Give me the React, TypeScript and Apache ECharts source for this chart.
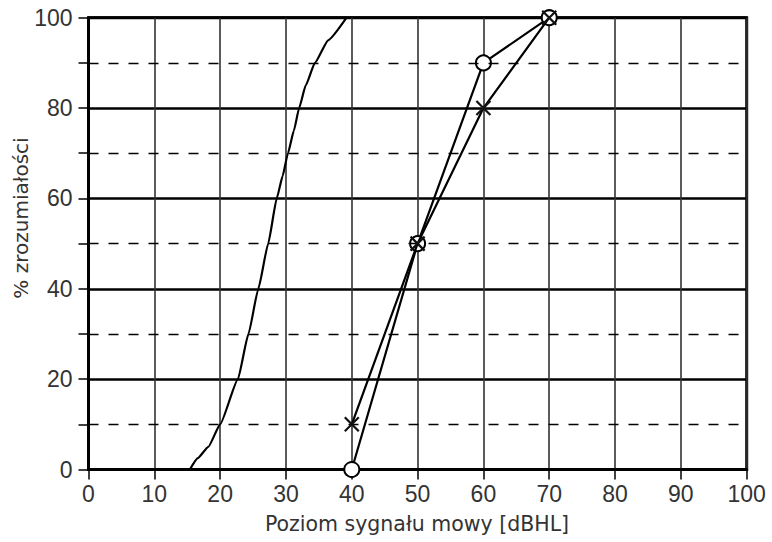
import React, { useEffect, useRef } from "react";
import * as echarts from "echarts";

// Normal-hearing reference curve (level dBHL, % intelligibility)
const curveX = [15.4, 16.6, 18.2, 20, 22.7, 24.3, 25.8, 27.3, 28.6, 29.5, 30.3, 31.2, 32, 33, 34.4, 36.4, 39.2];
const curveY = [0, 2.5, 5, 10, 20, 30, 40, 50, 60, 65, 70, 75, 80, 85, 90, 95, 100];

// Measured series
const levels = [40, 50, 60, 70];
const circleValues = [0, 50, 90, 100];
const crossValues = [10, 50, 80, 100];

const dashedLevels = [10, 30, 50, 70, 90];

const xTitle = "Poziom sygnału mowy [dBHL]";
const yTitle = "% zrozumiałości";

export default function App() {
  const ref = useRef<HTMLDivElement>(null);
  useEffect(() => {
    if (!ref.current) return;
    const chart = echarts.init(ref.current, null, { renderer: "svg" });
    const tickFont = { fontFamily: "Liberation Sans, Arial, sans-serif", fontSize: 23, color: "#333" };
    chart.setOption({
      animation: false,
      backgroundColor: "#fff",
      grid: {
        left: 88.5,
        right: 25.3,
        top: 17.7,
        bottom: 72.5,
        show: true,
        borderColor: "#000",
        borderWidth: 3,
        backgroundColor: "transparent",
      },
      xAxis: {
        type: "value",
        min: 0,
        max: 100,
        interval: 10,
        axisLine: { show: true, lineStyle: { color: "#000", width: 2.5 } },
        axisTick: { show: true, length: 10, lineStyle: { color: "#000", width: 1.5 } },
        axisLabel: { ...tickFont, margin: 13 },
        splitLine: { show: true, lineStyle: { color: "#333", width: 1.6, type: "solid" } },
      },
      yAxis: [
        {
          type: "value",
          min: 0,
          max: 100,
          interval: 10,
          axisLine: { show: true, lineStyle: { color: "#000", width: 3 } },
          axisTick: { show: true, length: 10, lineStyle: { color: "#000", width: 1.5 } },
          axisLabel: {
            ...tickFont,
            margin: 16,
            formatter: (v: number) => (v % 20 === 0 ? String(v) : ""),
          },
          splitLine: { show: false },
        },
        {
          type: "value",
          min: 0,
          max: 100,
          interval: 20,
          position: "left",
          axisLine: { show: false },
          axisTick: { show: false },
          axisLabel: { show: false },
          splitLine: { show: true, lineStyle: { color: "#000", width: 2.5, type: "solid" } },
        },
      ],
      graphic: [
        {
          type: "text",
          x: 417,
          y: 524,
          style: {
            text: xTitle,
            fontFamily: "DejaVu Sans, sans-serif",
            fontSize: 20.5,
            fill: "#333",
            textAlign: "center",
            textVerticalAlign: "middle",
          },
        },
        {
          type: "text",
          x: 21,
          y: 218,
          rotation: Math.PI / 2,
          style: {
            text: yTitle,
            fontFamily: "DejaVu Sans, sans-serif",
            fontSize: 20,
            fill: "#333",
            textAlign: "center",
            textVerticalAlign: "middle",
          },
        },
      ],
      series: [
        {
          type: "line",
          name: "dashed",
          data: [],
          markLine: {
            silent: true,
            symbol: "none",
            label: { show: false },
            lineStyle: { color: "#000", width: 1.4, type: [10, 10] },
            data: dashedLevels.map((v) => ({ yAxis: v })),
          },
        },
        {
          type: "line",
          name: "norma",
          data: curveX.map((x, i) => [x, curveY[i]]),
          showSymbol: false,
          symbol: "none",
          smooth: 0.15,
          smoothMonotone: "x",
          lineStyle: { color: "#000", width: 2.2 },
          z: 3,
        },
        {
          type: "line",
          name: "o",
          data: levels.map((x, i) => [x, circleValues[i]]),
          symbol: "circle",
          symbolSize: 15,
          clip: false,
          lineStyle: { color: "#000", width: 2.2 },
          itemStyle: { color: "#fff", borderColor: "#000", borderWidth: 2 },
          z: 4,
        },
        {
          type: "line",
          name: "x",
          data: levels.map((x, i) => [x, crossValues[i]]),
          symbol: "path://M0,0L10,10M10,0L0,10",
          symbolSize: 14,
          clip: false,
          lineStyle: { color: "#000", width: 2.2 },
          itemStyle: { color: "transparent", borderColor: "#111", borderWidth: 2.2 },
          z: 5,
        },
      ],
    });
    return () => chart.dispose();
  }, []);
  return (
    <div
      ref={ref}
      style={{ position: "fixed", left: 0, top: 0, width: 772, height: 542, background: "#fff" }}
    />
  );
}
